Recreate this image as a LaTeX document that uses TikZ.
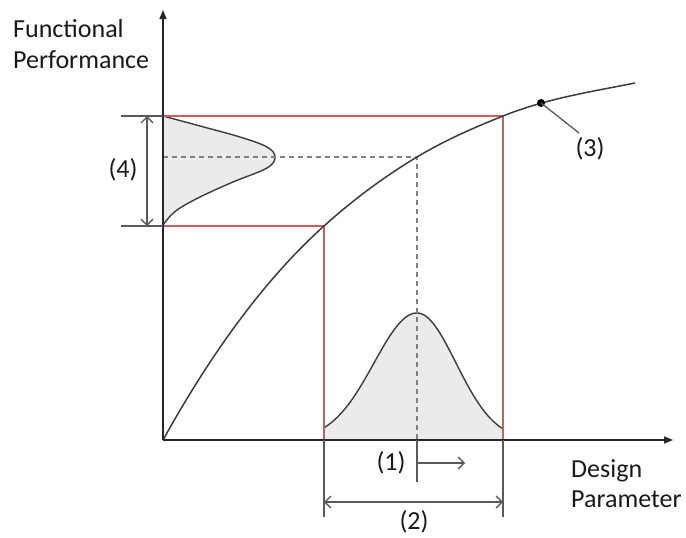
\documentclass[tikz,border=0pt]{standalone}
\usepackage{fontspec}
\setmainfont{Carlito}
\usetikzlibrary{arrows.meta}
\definecolor{redline}{RGB}{196,96,96}
\definecolor{curvegray}{RGB}{60,60,60}
\definecolor{dimgray}{RGB}{89,89,89}
\definecolor{fillgray}{RGB}{235,235,235}
\tikzset{
  axis/.style={line width=1.6pt, black!85, -{Triangle[length=9pt,width=7pt]}},
  redbox/.style={line width=1.6pt, redline},
  perf/.style={line width=1.5pt, curvegray},
  gaussfill/.style={fill=fillgray, draw=none},
  gaussline/.style={line width=1.4pt, curvegray},
  guide/.style={line width=1.2pt, gray, dash pattern=on 5pt off 4pt},
  dimline/.style={line width=1.3pt, dimgray},
  dimarrow/.style={line width=1.3pt, dimgray, {Straight Barb[length=6pt,width=12pt]}-{Straight Barb[length=6pt,width=12pt]}},
  onearrow/.style={line width=1.3pt, dimgray, -{Straight Barb[length=6pt,width=12pt]}},
  lbl/.style={inner sep=0pt, font=\fontsize{26}{31}\selectfont, text=black!90}
}
\begin{document}
\begin{tikzpicture}[x=1pt,y=-1pt]
\useasboundingbox (0,0) rectangle (686,538);
% key coordinates
\coordinate (O) at (163,440);
\coordinate (ytop) at (163,10);
\coordinate (xend) at (673,440);
\coordinate (lowcorner) at (324,226);
\coordinate (highcorner) at (503,116);
\coordinate (lowy) at (163,226);
\coordinate (highy) at (163,116);
\coordinate (lowx) at (324,440);
\coordinate (highx) at (503,440);
\coordinate (mid) at (417,157);
\coordinate (midy) at (163,157);
\coordinate (midx) at (417,440);
\coordinate (cend) at (635,83);
\coordinate (pt3) at (541,103);
\coordinate (lead3) at (579,133);
% gaussian on the x axis
\fill[gaussfill] (lowx) -- plot[domain=324:417,samples=50] (\x,{440-127*exp(-((\x-417)*(\x-417))/3698)})
  -- plot[domain=417:503,samples=50] (\x,{440-127*exp(-((\x-417)*(\x-417))/3042)}) -- (highx) -- cycle;
\draw[gaussline] plot[domain=324:417,samples=50] (\x,{440-127*exp(-((\x-417)*(\x-417))/3698)})
  -- plot[domain=417:503,samples=50] (\x,{440-127*exp(-((\x-417)*(\x-417))/3042)});
% gaussian on the y axis
\fill[gaussfill] plot[smooth,tension=0.6] coordinates {(163,116) (200,126) (240,137) (267,147) (275,157) (267,168) (233,182) (200,197) (177,210) (166,221) (163,226)} -- cycle;
\draw[gaussline] plot[smooth,tension=0.6] coordinates {(163,116) (200,126) (240,137) (267,147) (275,157) (267,168) (233,182) (200,197) (177,210) (166,221) (163,226)};
% guide lines
\draw[guide] (midy) -- (mid) -- (midx);
% red boxes
\draw[redbox] (lowy) -- (lowcorner) -- (lowx);
\draw[redbox] (highy) -- (highcorner) -- (highx);
% performance curve
\draw[perf] (O) .. controls (216.7,343.3) and (270.3,274.3) .. (lowcorner)
  .. controls (355,198.1) and (386,175.6) .. (mid)
  .. controls (445.7,139.8) and (474.3,127.5) .. (highcorner)
  .. controls (547,98.4) and (591,91.8) .. (cend);
% axes
\draw[axis] (O) -- (ytop);
\draw[axis] (O) -- (xend);
% dimension (4)
\coordinate (t4a) at (121,116);
\coordinate (t4b) at (121,226);
\draw[dimline] (t4a) -- (highy);
\draw[dimline] (t4b) -- (lowy);
\coordinate (a4a) at (147,116);
\coordinate (a4b) at (147,226);
\draw[dimarrow] (a4a) -- (a4b);
\node[lbl] (l4) at (123,170) {(4)};
% dimension (2)
\coordinate (t2a) at (324,517);
\coordinate (t2b) at (503,517);
\draw[dimline] (lowx) -- (t2a);
\draw[dimline] (highx) -- (t2b);
\coordinate (a2a) at (324,502);
\coordinate (a2b) at (503,502);
\draw[dimarrow] (a2a) -- (a2b);
\node[lbl] (l2) at (414,522) {(2)};
% shift (1)
\coordinate (t1) at (417,482);
\draw[dimline] (midx) -- (t1);
\coordinate (a1a) at (417,463);
\coordinate (a1b) at (465,463);
\draw[onearrow] (a1a) -- (a1b);
\node[lbl] (l1) at (391,463) {(1)};
% point (3)
\fill[black] (pt3) circle (4pt);
\draw[dimline] (pt3) -- (lead3);
\node[lbl] (l3) at (590,149) {(3)};
% axis titles
\node[lbl, anchor=base west] (yt1) at (13,37) {Functional};
\node[lbl, anchor=base west] (yt2) at (13,68) {Performance};
\node[lbl, anchor=base west] (xt1) at (571,477) {Design};
\node[lbl, anchor=base west] (xt2) at (571,507) {Parameter};
\end{tikzpicture}
\end{document}
